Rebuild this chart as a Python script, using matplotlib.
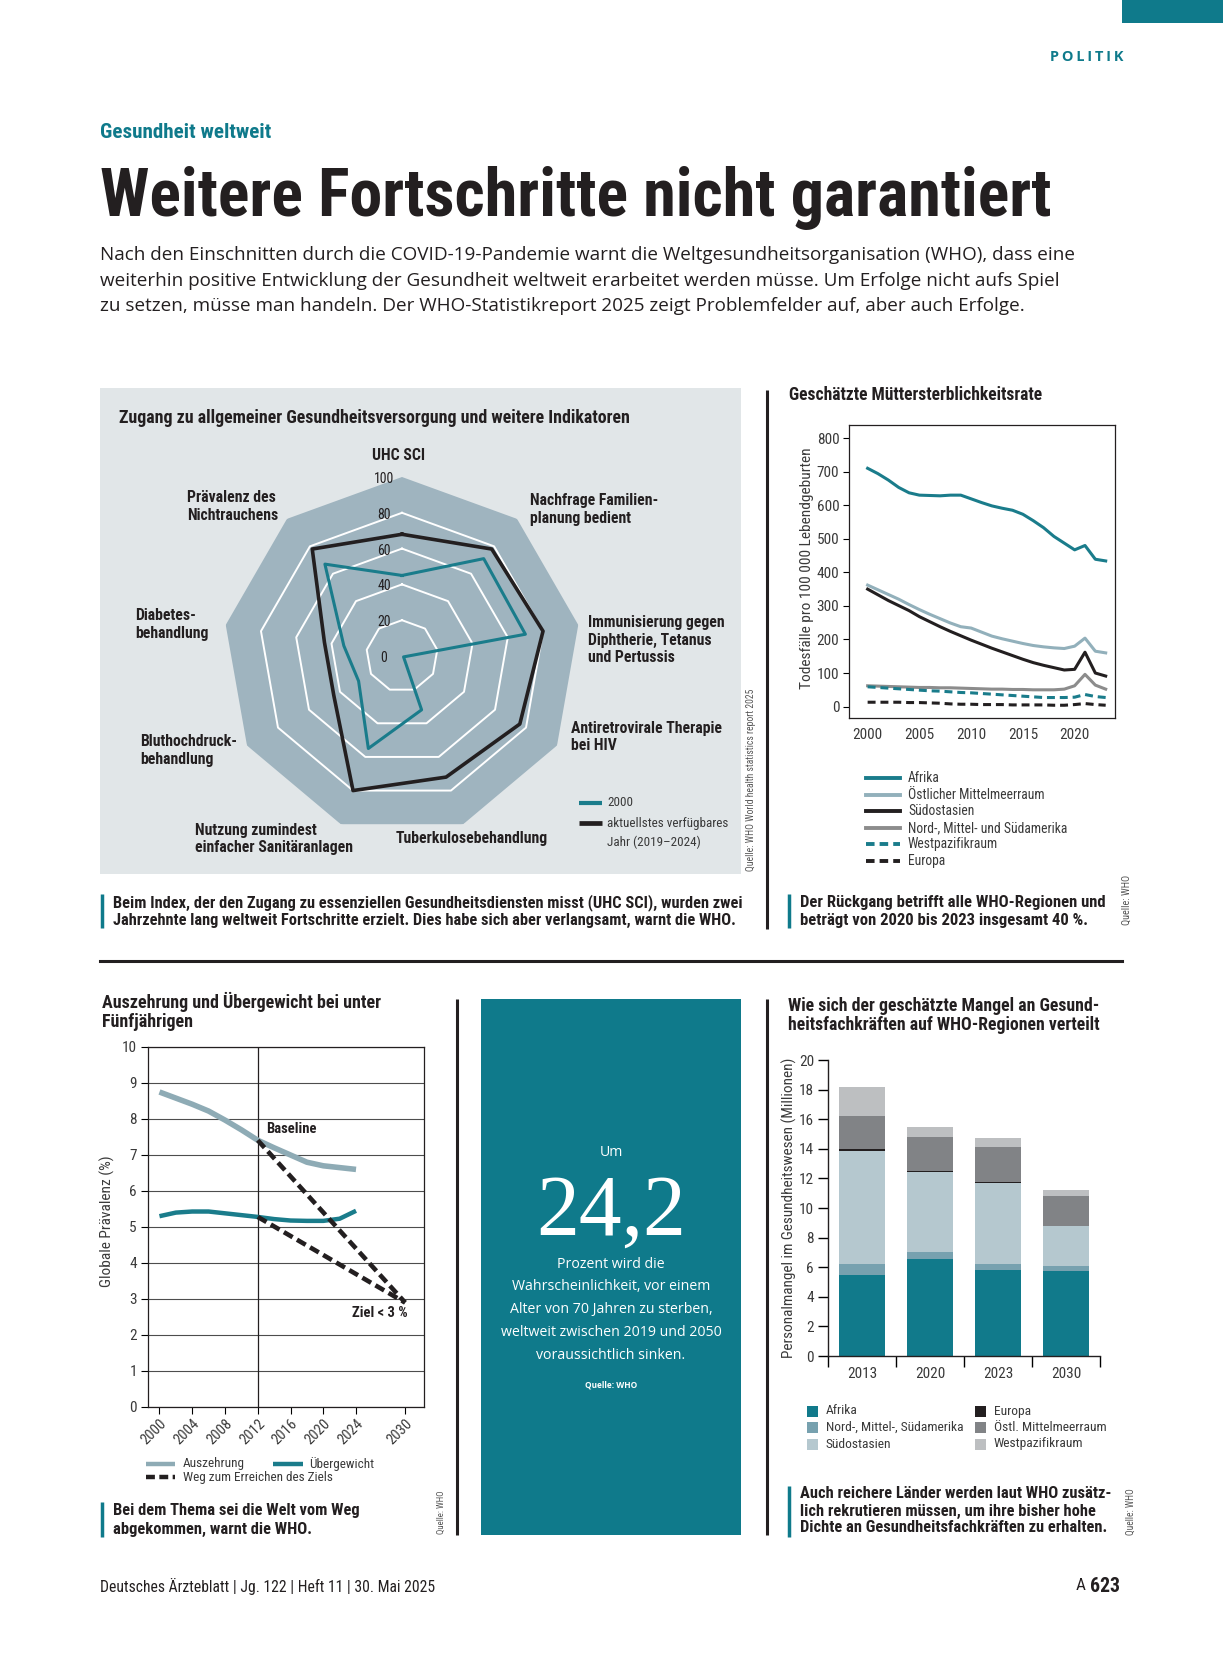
import numpy as np
import matplotlib
matplotlib.use('Agg')
import matplotlib.pyplot as plt
import matplotlib.font_manager as fm
from matplotlib.lines import Line2D
from matplotlib.patches import Rectangle
from matplotlib.transforms import ScaledTranslation

# ---------------- data ----------------
radar_axes = ['UHC SCI', 'Nachfrage Familienplanung bedient',
              'Immunisierung gegen Diphtherie, Tetanus und Pertussis',
              'Antiretrovirale Therapie bei HIV', 'Tuberkulosebehandlung',
              'Nutzung zumindest einfacher Sanitäranlagen',
              'Bluthochdruckbehandlung', 'Diabetesbehandlung',
              'Prävalenz des Nichtrauchens']
radar_2000 = [45, 71, 70, 1, 32, 55, 28, 33, 67]
radar_latest = [68, 78, 80, 76, 72, 80, 44, 44, 78]
radar_levels = [0, 20, 40, 60, 80, 100]
radar_series = ['2000', 'aktuellstes verfügbares\nJahr (2019–2024)']

mm_years = list(range(2000, 2024))
mm_afrika = [710, 694, 675, 653, 637, 630, 629, 628, 630, 630, 619, 608,
             598, 591, 585, 573, 554, 533, 507, 487, 467, 480, 439, 434]
mm_emr = [362, 348, 334, 320, 304, 289, 275, 262, 249, 238, 234, 222,
          210, 202, 195, 188, 182, 178, 175, 173, 180, 204, 165, 160]
mm_sear = [350, 333, 316, 301, 286, 268, 253, 238, 224, 211, 198, 186,
           174, 163, 152, 141, 131, 123, 116, 109, 111, 162, 100, 91]
mm_amr = [62, 61, 60, 59, 58, 57, 57, 56, 56, 55, 54, 53,
          52, 52, 51, 51, 50, 50, 50, 52, 62, 96, 64, 52]
mm_wpr = [59, 57, 55, 53, 51, 49, 47, 46, 44, 42, 41, 39,
          37, 35, 33, 31, 29, 27, 27, 27, 28, 36, 30, 27]
mm_eur = [13, 13, 13, 13, 12, 12, 11, 10, 8, 7, 7, 6,
          6, 6, 5, 5, 5, 5, 4, 4, 6, 9, 6, 4]
mm_labels = ['Afrika', 'Östlicher Mittelmeerraum', 'Südostasien',
             'Nord-, Mittel- und Südamerika', 'Westpazifikraum', 'Europa']
mm_yticks = list(range(0, 801, 100))
mm_xticks = [2000, 2005, 2010, 2015, 2020]

ws_years = [2000, 2002, 2004, 2006, 2008, 2010, 2012, 2014, 2016, 2018, 2020, 2022, 2024]
ws_wasting = [8.75, 8.58, 8.41, 8.22, 7.97, 7.70, 7.41, 7.20, 7.00, 6.80, 6.70, 6.65, 6.60]
ws_overweight = [5.30, 5.40, 5.43, 5.43, 5.38, 5.33, 5.28, 5.22, 5.18, 5.17, 5.17, 5.23, 5.45]
ws_baseline_year = 2012
ws_path_years = [2012, 2030]
ws_path_wasting = [7.41, 2.9]
ws_path_overweight = [5.28, 2.9]
ws_xticks = [2000, 2004, 2008, 2012, 2016, 2020, 2024, 2030]
ws_yticks = list(range(0, 11))
ws_labels = ['Auszehrung', 'Übergewicht', 'Weg zum Erreichen des Ziels']

st_years = ['2013', '2020', '2023', '2030']
st_afrika = [5.45, 6.55, 5.80, 5.72]
st_amerika = [0.75, 0.45, 0.45, 0.36]
st_soasien = [7.65, 5.40, 5.43, 2.73]
st_europa = [0.15, 0.13, 0.10, 0.00]
st_emr = [2.20, 2.30, 2.33, 2.02]
st_wpr = [2.00, 0.67, 0.61, 0.41]
st_labels = ['Afrika', 'Nord-, Mittel-, Südamerika', 'Südostasien',
             'Europa', 'Östl. Mittelmeerraum', 'Westpazifikraum']
st_yticks = list(range(0, 21, 2))

# ---------------- style ----------------
avail = {f.name for f in fm.fontManager.ttflist}
def pick(*c):
    for n in c:
        if n in avail:
            return n
    return 'DejaVu Sans'
COND = pick('Liberation Sans Narrow', 'Roboto Condensed', 'Open Sans Condensed', 'Open Sans', 'DejaVu Sans')
SANS = pick('Open Sans', 'Noto Sans', 'Lato', 'DejaVu Sans')
SERIF = pick('Liberation Serif', 'DejaVu Serif')
LIGHT = COND

TEAL = '#0f7a8b'
TEALL = '#1a7c8b'
DARK = '#231f20'
GREYT = '#3a3a3a'
EMRC = '#92b0bb'
AMRC = '#8c8c8c'
WASTEC = '#8eabb5'
PANEL = '#e1e6e8'
POLY = '#9fb4bf'
BARC = ['#117a8b', '#77a1af', '#b5c8cf', '#231f20', '#818386', '#bdbfc1']

W, H, DPI = 1223, 1654, 100
fig = plt.figure(figsize=(W / DPI, H / DPI), dpi=DPI)
fig.patch.set_facecolor('white')
R = fig.canvas.get_renderer()


def fit(s, w, base=10, rot=False, **kw):
    t = fig.text(0, 0, s, fontsize=base, rotation=90 if rot else 0, **kw)
    bb = t.get_window_extent(renderer=R)
    t.remove()
    return base * w / (bb.height if rot else bb.width)


def T(x, y, s, size, ha='left', va='center', **kw):
    return fig.text(x / W, 1 - y / H, s, fontsize=size, ha=ha, va=va, **kw)


def AX(x0, y0, x1, y1, **kw):
    return fig.add_axes([x0 / W, 1 - y1 / H, (x1 - x0) / W, (y1 - y0) / H], **kw)


def rect(x0, y0, x1, y1, color, z=-5):
    fig.add_artist(Rectangle((x0 / W, 1 - y1 / H), (x1 - x0) / W, (y1 - y0) / H,
                             transform=fig.transFigure, color=color, lw=0, zorder=z))


def hline(x0, x1, y, color=DARK, lw=2.0, **kw):
    fig.add_artist(Line2D([x0 / W, x1 / W], [1 - y / H, 1 - y / H],
                          transform=fig.transFigure, color=color, lw=lw, **kw))


def vline(x, y0, y1, color=DARK, lw=2.0):
    fig.add_artist(Line2D([x / W, x / W], [1 - y0 / H, 1 - y1 / H],
                          transform=fig.transFigure, color=color, lw=lw, solid_capstyle='butt'))


# ---------------- page header ----------------
rect(1122, 0, 1223, 23, TEAL)
pol = 'P\u2009O\u2009L\u2009I\u2009T\u2009I\u2009K'
s = fit(pol, 74, family=[SANS, 'DejaVu Sans'], fontweight='bold')
T(1124, 57, pol, s, ha='right', family=[SANS, 'DejaVu Sans'], fontweight='bold', color=TEAL)
s = fit('Gesundheit weltweit', 171, family=COND, fontweight='bold')
T(100, 132, 'Gesundheit weltweit', s, family=COND, fontweight='bold', color=TEAL)
title = 'Weitere Fortschritte nicht garantiert'
s = fit(title, 950, base=40, family=COND, fontweight='bold')
T(100, 216, title, s, va='baseline', family=COND, fontweight='bold', color=DARK)
para = ['Nach den Einschnitten durch die COVID-19-Pandemie warnt die Weltgesundheitsorganisation (WHO), dass eine',
        'weiterhin positive Entwicklung der Gesundheit weltweit erarbeitet werden müsse. Um Erfolge nicht aufs Spiel',
        'zu setzen, müsse man handeln. Der WHO-Statistikreport 2025 zeigt Problemfelder auf, aber auch Erfolge.']
s = fit(para[0], 968, base=12, family=SANS)
for i, ln in enumerate(para):
    T(100, 255 + i * 25.5, ln, s, family=SANS, color=DARK)

# ---------------- dividers ----------------
vline(767, 390, 929, lw=2.2)
hline(100, 1122, 961, lw=2.2)
vline(457, 999, 1535, lw=2.2)
vline(767, 999, 1535, lw=2.2)

# ---------------- radar panel ----------------
rect(100, 388, 741, 874, PANEL)
rt = 'Zugang zu allgemeiner Gesundheitsversorgung und weitere Indikatoren'
s = fit(rt, 511, family=COND, fontweight='bold')
T(119, 418, rt, s, family=COND, fontweight='bold', color=DARK)

cx, cy, rr = 402, 656, 179
axr = fig.add_axes([(cx - rr) / W, 1 - (cy + rr) / H, 2 * rr / W, 2 * rr / H], projection='polar')
axr.set_theta_offset(np.pi / 2)
axr.set_theta_direction(-1)
axr.set_ylim(0, radar_levels[-1])
axr.axis('off')
n = len(radar_axes)
ang = np.linspace(0, 2 * np.pi, n, endpoint=False)
angc = np.append(ang, ang[0])
axr.fill(angc, [radar_levels[-1]] * (n + 1), color=POLY, lw=0, zorder=1)
for lv in radar_levels[1:-1]:
    axr.plot(angc, [lv] * (n + 1), color='white', lw=1.4, zorder=2)
axr.plot(angc, np.append(radar_latest, radar_latest[0]), color=DARK, lw=2.6, zorder=3)
axr.plot(angc, np.append(radar_2000, radar_2000[0]), color=TEALL, lw=2.2, zorder=4)
off = ScaledTranslation(-18 / DPI, -2 / DPI, fig.dpi_scale_trans)
for lv in radar_levels:
    axr.text(0, lv, str(lv), transform=axr.transData + off, ha='center', va='center',
             fontsize=10, family=COND, color=DARK, zorder=6)

rl_size = fit('Immunisierung gegen', 136, family=COND, fontweight='bold')
radar_label_pos = [
    (399, [456], ['UHC SCI'], 'center'),
    (530, [501, 518], ['Nachfrage Familien-', 'planung bedient'], 'left'),
    (588, [623, 640, 657], ['Immunisierung gegen', 'Diphtherie, Tetanus', 'und Pertussis'], 'left'),
    (571, [728, 745], ['Antiretrovirale Therapie', 'bei HIV'], 'left'),
    (396, [839], ['Tuberkulosebehandlung'], 'left'),
    (195, [830, 847], ['Nutzung zumindest', 'einfacher Sanitäranlagen'], 'left'),
    (140, [742, 760], ['Bluthochdruck-', 'behandlung'], 'left'),
    (135, [615, 633], ['Diabetes-', 'behandlung'], 'left'),
    (187, [498, 515], ['Prävalenz des', 'Nichtrauchens'], 'left'),
]
for x, ys, lines, ha in radar_label_pos:
    for y, ln in zip(ys, lines):
        T(x, y, ln, rl_size, ha=ha, family=COND, fontweight='bold', color=DARK)

# radar legend
lg = fit('aktuellstes verfügbares', 120, family=LIGHT)
hline(579, 602, 803, color=TEALL, lw=3.0, solid_capstyle='butt')
hline(579, 602, 823, color=DARK, lw=3.4, solid_capstyle='butt')
T(607, 803, radar_series[0], lg, family=LIGHT, color=GREYT)
for i, ln in enumerate(radar_series[1].split('\n')):
    T(607, 823 + i * 19, ln, lg, family=LIGHT, color=GREYT)
src = 'Quelle: WHO World health statistics report 2025'
s = fit(src, 183, base=6, rot=True, family=LIGHT)
T(751, 780, src, s, ha='center', rotation=90, family=LIGHT, color='#555555')

# radar caption
cap = ['Beim Index, der den Zugang zu essenziellen Gesundheitsdiensten misst (UHC SCI), wurden zwei',
       'Jahrzehnte lang weltweit Fortschritte erzielt. Dies habe sich aber verlangsamt, warnt die WHO.']
s = fit(cap[0], 627, family=COND, fontweight='bold')
vline(102, 894, 928, color=TEAL, lw=2.5)
for i, ln in enumerate(cap):
    T(113, 903 + i * 17.5, ln, s, family=COND, fontweight='bold', color=DARK)

# ---------------- maternal mortality ----------------
mt = 'Geschätzte Müttersterblichkeitsrate'
s = fit(mt, 254, family=COND, fontweight='bold')
T(789, 395, mt, s, family=COND, fontweight='bold', color=DARK)
axm = AX(849, 425, 1115, 718)
mm_series = [mm_afrika, mm_emr, mm_sear, mm_amr, mm_wpr, mm_eur]
mm_style = [(TEALL, '-'), (EMRC, '-'), (DARK, '-'), (AMRC, '-'), (TEALL, '--'), (DARK, '--')]
mm_lines = []
for vals, (c, ls) in zip(mm_series, mm_style):
    kw = dict(dashes=(2.6, 1.6)) if ls == '--' else {}
    ln, = axm.plot(mm_years, vals, color=c, lw=2.2, **kw)
    mm_lines.append(ln)
axm.set_xlim(1998.2, 2023.9)
axm.set_ylim(-34, 839)
axm.set_yticks(mm_yticks)
axm.set_xticks(mm_xticks)
for sp in axm.spines.values():
    sp.set_linewidth(0.9)
    sp.set_color(DARK)
axm.tick_params(axis='y', length=4, width=0.8, labelsize=11, pad=3, labelcolor=GREYT)
axm.tick_params(axis='x', length=0, labelsize=11, pad=7, labelcolor=GREYT)
for lbl in axm.get_xticklabels() + axm.get_yticklabels():
    lbl.set_family(LIGHT)
ylab = 'Todesfälle pro 100 000 Lebendgeburten'
s = fit(ylab, 240, rot=True, family=LIGHT)
T(807, 568, ylab, s, ha='center', rotation=90, family=LIGHT, color=GREYT)

lg = fit('Nord-, Mittel- und Südamerika', 159, family=LIGHT)
for i, (lab, ln) in enumerate(zip(mm_labels, mm_lines)):
    y = 778 + i * 16.6
    hline(866, 900, y, color=ln.get_color(), lw=2.8,
          linestyle=(0, (2.2, 1.3)) if ln.get_linestyle() == '--' else '-')
    T(908, y, lab, lg, family=LIGHT, color=GREYT)

s = fit('Quelle: WHO', 50, base=6, rot=True, family=LIGHT)
T(1127, 900, 'Quelle: WHO', s, ha='center', rotation=90, family=LIGHT, color='#555555')
cap = ['Der Rückgang betrifft alle WHO-Regionen und', 'beträgt von 2020 bis 2023 insgesamt 40 %.']
s = fit(cap[0], 305, family=COND, fontweight='bold')
vline(789, 894, 928, color=TEAL, lw=2.5)
for i, ln in enumerate(cap):
    T(800, 903 + i * 17.5, ln, s, family=COND, fontweight='bold', color=DARK)

# ---------------- wasting / overweight ----------------
tl = ['Auszehrung und Übergewicht bei unter', 'Fünfjährigen']
s = fit(tl[0], 279, family=COND, fontweight='bold')
for i, ln in enumerate(tl):
    T(102, 1002 + i * 20, ln, s, family=COND, fontweight='bold', color=DARK)
axw = AX(148, 1047, 424, 1407)
axw.set_xlim(1998.6, 2032.3)
axw.set_ylim(0, 10)
axw.set_yticks(ws_yticks)
axw.set_xticks(ws_xticks)
axw.yaxis.grid(True, color='#4d4d4d', lw=0.8)
axw.set_axisbelow(True)
for sp in axw.spines.values():
    sp.set_linewidth(0.9)
    sp.set_color(DARK)
axw.axvline(ws_baseline_year, color=DARK, lw=0.9, zorder=1)
l_w, = axw.plot(ws_years, ws_wasting, color=WASTEC, lw=4.0, solid_capstyle='butt', zorder=3)
l_o, = axw.plot(ws_years, ws_overweight, color=TEALL, lw=3.2, solid_capstyle='butt', zorder=3)
axw.plot(ws_path_years, ws_path_wasting, color=DARK, lw=3.3, dashes=(2.2, 1.1), zorder=4)
axw.plot(ws_path_years, ws_path_overweight, color=DARK, lw=3.3, dashes=(2.2, 1.1), zorder=4)
axw.text(2013.0, 7.72, 'Baseline', fontsize=10.5, family=COND, fontweight='bold', color=DARK, va='center')
axw.text(2026.9, 2.62, 'Ziel < 3 %', fontsize=10.5, family=COND, fontweight='bold', color=DARK,
         ha='center', va='center')
axw.tick_params(axis='y', length=5, width=0.8, labelsize=11, pad=3, labelcolor=GREYT)
axw.tick_params(axis='x', length=5, width=0.8, labelsize=10.5, pad=2, labelcolor=GREYT)
for lbl in axw.get_xticklabels():
    lbl.set_rotation(45)
    lbl.set_ha('right')
    lbl.set_rotation_mode('anchor')
for lbl in axw.get_xticklabels() + axw.get_yticklabels():
    lbl.set_family(LIGHT)
ylab = 'Globale Prävalenz (%)'
s = fit(ylab, 132, rot=True, family=LIGHT)
T(107, 1221, ylab, s, ha='center', rotation=90, family=LIGHT, color=GREYT)

lg = fit(ws_labels[2], 149, family=LIGHT)
hline(146, 175, 1464, color=WASTEC, lw=3.2, solid_capstyle='butt')
T(183, 1464, ws_labels[0], lg, family=LIGHT, color=GREYT)
hline(273, 303, 1464, color=TEALL, lw=3.2, solid_capstyle='butt')
T(309, 1464, ws_labels[1], lg, family=LIGHT, color=GREYT)
hline(146, 175, 1477, color=DARK, lw=3.2, linestyle=(0, (2.0, 1.0)), solid_capstyle='butt')
T(183, 1477, ws_labels[2], lg, family=LIGHT, color=GREYT)

s = fit('Quelle: WHO', 44, base=6, rot=True, family=LIGHT)
T(441, 1512, 'Quelle: WHO', s, ha='center', rotation=90, family=LIGHT, color='#555555')
cap = ['Bei dem Thema sei die Welt vom Weg', 'abgekommen, warnt die WHO.']
s = fit(cap[0], 247, family=COND, fontweight='bold')
vline(102, 1502, 1537, color=TEAL, lw=2.5)
for i, ln in enumerate(cap):
    T(113, 1511 + i * 18, ln, s, family=COND, fontweight='bold', color=DARK)

# ---------------- teal stat box ----------------
rect(481, 999, 741, 1535, TEAL)
box_lines = ['Prozent wird die', 'Wahrscheinlichkeit, vor einem', 'Alter von 70 Jahren zu sterben,',
             'weltweit zwischen 2019 und 2050', 'voraussichtlich sinken.']
bs = fit(box_lines[3], 221, family=SANS)
T(611, 1152, 'Um', bs, ha='center', family=SANS, color='white')
s = fit('24,2', 150, base=50, family=SERIF)
T(611, 1235, '24,2', s, ha='center', va='baseline', family=SERIF, color='white')
for i, ln in enumerate(box_lines):
    T(611, 1264 + i * 22.8, ln, bs, ha='center', family=SANS, color='white')
s = fit('Quelle: WHO', 52, family=SANS, fontweight='bold')
T(611, 1385, 'Quelle: WHO', s, ha='center', family=SANS, fontweight='bold', color='white')

# ---------------- health workforce shortage ----------------
tl = ['Wie sich der geschätzte Mangel an Gesund-', 'heitsfachkräften auf WHO-Regionen verteilt']
s = fit(tl[1], 311, family=COND, fontweight='bold')
for i, ln in enumerate(tl):
    T(788, 1006 + i * 19, ln, s, family=COND, fontweight='bold', color=DARK)
axs = AX(828, 1060, 1100, 1356)
xs = np.arange(len(st_years))
bottom = np.zeros(len(st_years))
st_series = [st_afrika, st_amerika, st_soasien, st_europa, st_emr, st_wpr]
for vals, c in zip(st_series, BARC):
    axs.bar(xs, vals, 0.69, bottom=bottom, color=c, lw=0)
    bottom += np.array(vals)
axs.set_xlim(-0.5, len(st_years) - 0.5)
axs.set_ylim(0, 20)
axs.set_yticks(st_yticks)
axs.set_xticks(xs)
axs.set_xticklabels(st_years)
axs.set_xticks(np.arange(len(st_years) + 1) - 0.5, minor=True)
for sp in ['top', 'right']:
    axs.spines[sp].set_visible(False)
for sp in ['left', 'bottom']:
    axs.spines[sp].set_linewidth(1.0)
    axs.spines[sp].set_color(DARK)
axs.tick_params(axis='y', length=7, width=1.0, labelsize=11, pad=3, labelcolor=GREYT)
axs.tick_params(axis='x', which='major', length=0, labelsize=11, pad=8, labelcolor=GREYT)
axs.tick_params(axis='x', which='minor', length=8, width=1.0)
for lbl in axs.get_xticklabels() + axs.get_yticklabels():
    lbl.set_family(LIGHT)
ylab = 'Personalmangel im Gesundheitswesen (Millionen)'
s = fit(ylab, 301, rot=True, family=LIGHT)
T(789, 1208, ylab, s, ha='center', rotation=90, family=LIGHT, color=GREYT)

lg = fit(st_labels[1], 137, family=LIGHT)
for i, (lab, c) in enumerate(zip(st_labels, BARC)):
    col, row = divmod(i, 3)
    x0 = 807 if col == 0 else 975
    y = 1411 + row * 16.5
    rect(x0, y - 5.5, x0 + 11, y + 5.5, c, z=2)
    T(x0 + 19, y, lab, lg, family=LIGHT, color=GREYT)

s = fit('Quelle: WHO', 47, base=6, rot=True, family=LIGHT)
T(1131, 1512, 'Quelle: WHO', s, ha='center', rotation=90, family=LIGHT, color='#555555')
cap = ['Auch reichere Länder werden laut WHO zusätz-', 'lich rekrutieren müssen, um ihre bisher hohe',
       'Dichte an Gesundheitsfachkräften zu erhalten.']
s = fit(cap[2], 307, family=COND, fontweight='bold')
vline(789, 1486, 1537, color=TEAL, lw=2.5)
for i, ln in enumerate(cap):
    T(800, 1494 + i * 17, ln, s, family=COND, fontweight='bold', color=DARK)

# ---------------- footer ----------------
foot = 'Deutsches Ärzteblatt | Jg. 122 | Heft 11 | 30. Mai 2025'
s = fit(foot, 332, family=LIGHT)
T(100, 1586, foot, s, family=LIGHT, color=DARK)
T(1086, 1586, 'A', s * 1.1, ha='right', family=LIGHT, color=DARK)
s2 = fit('623', 30, family=COND, fontweight='bold')
T(1090, 1586, '623', s2, family=COND, fontweight='bold', color=DARK)

fig.savefig('out.png', dpi=DPI, facecolor='white')
